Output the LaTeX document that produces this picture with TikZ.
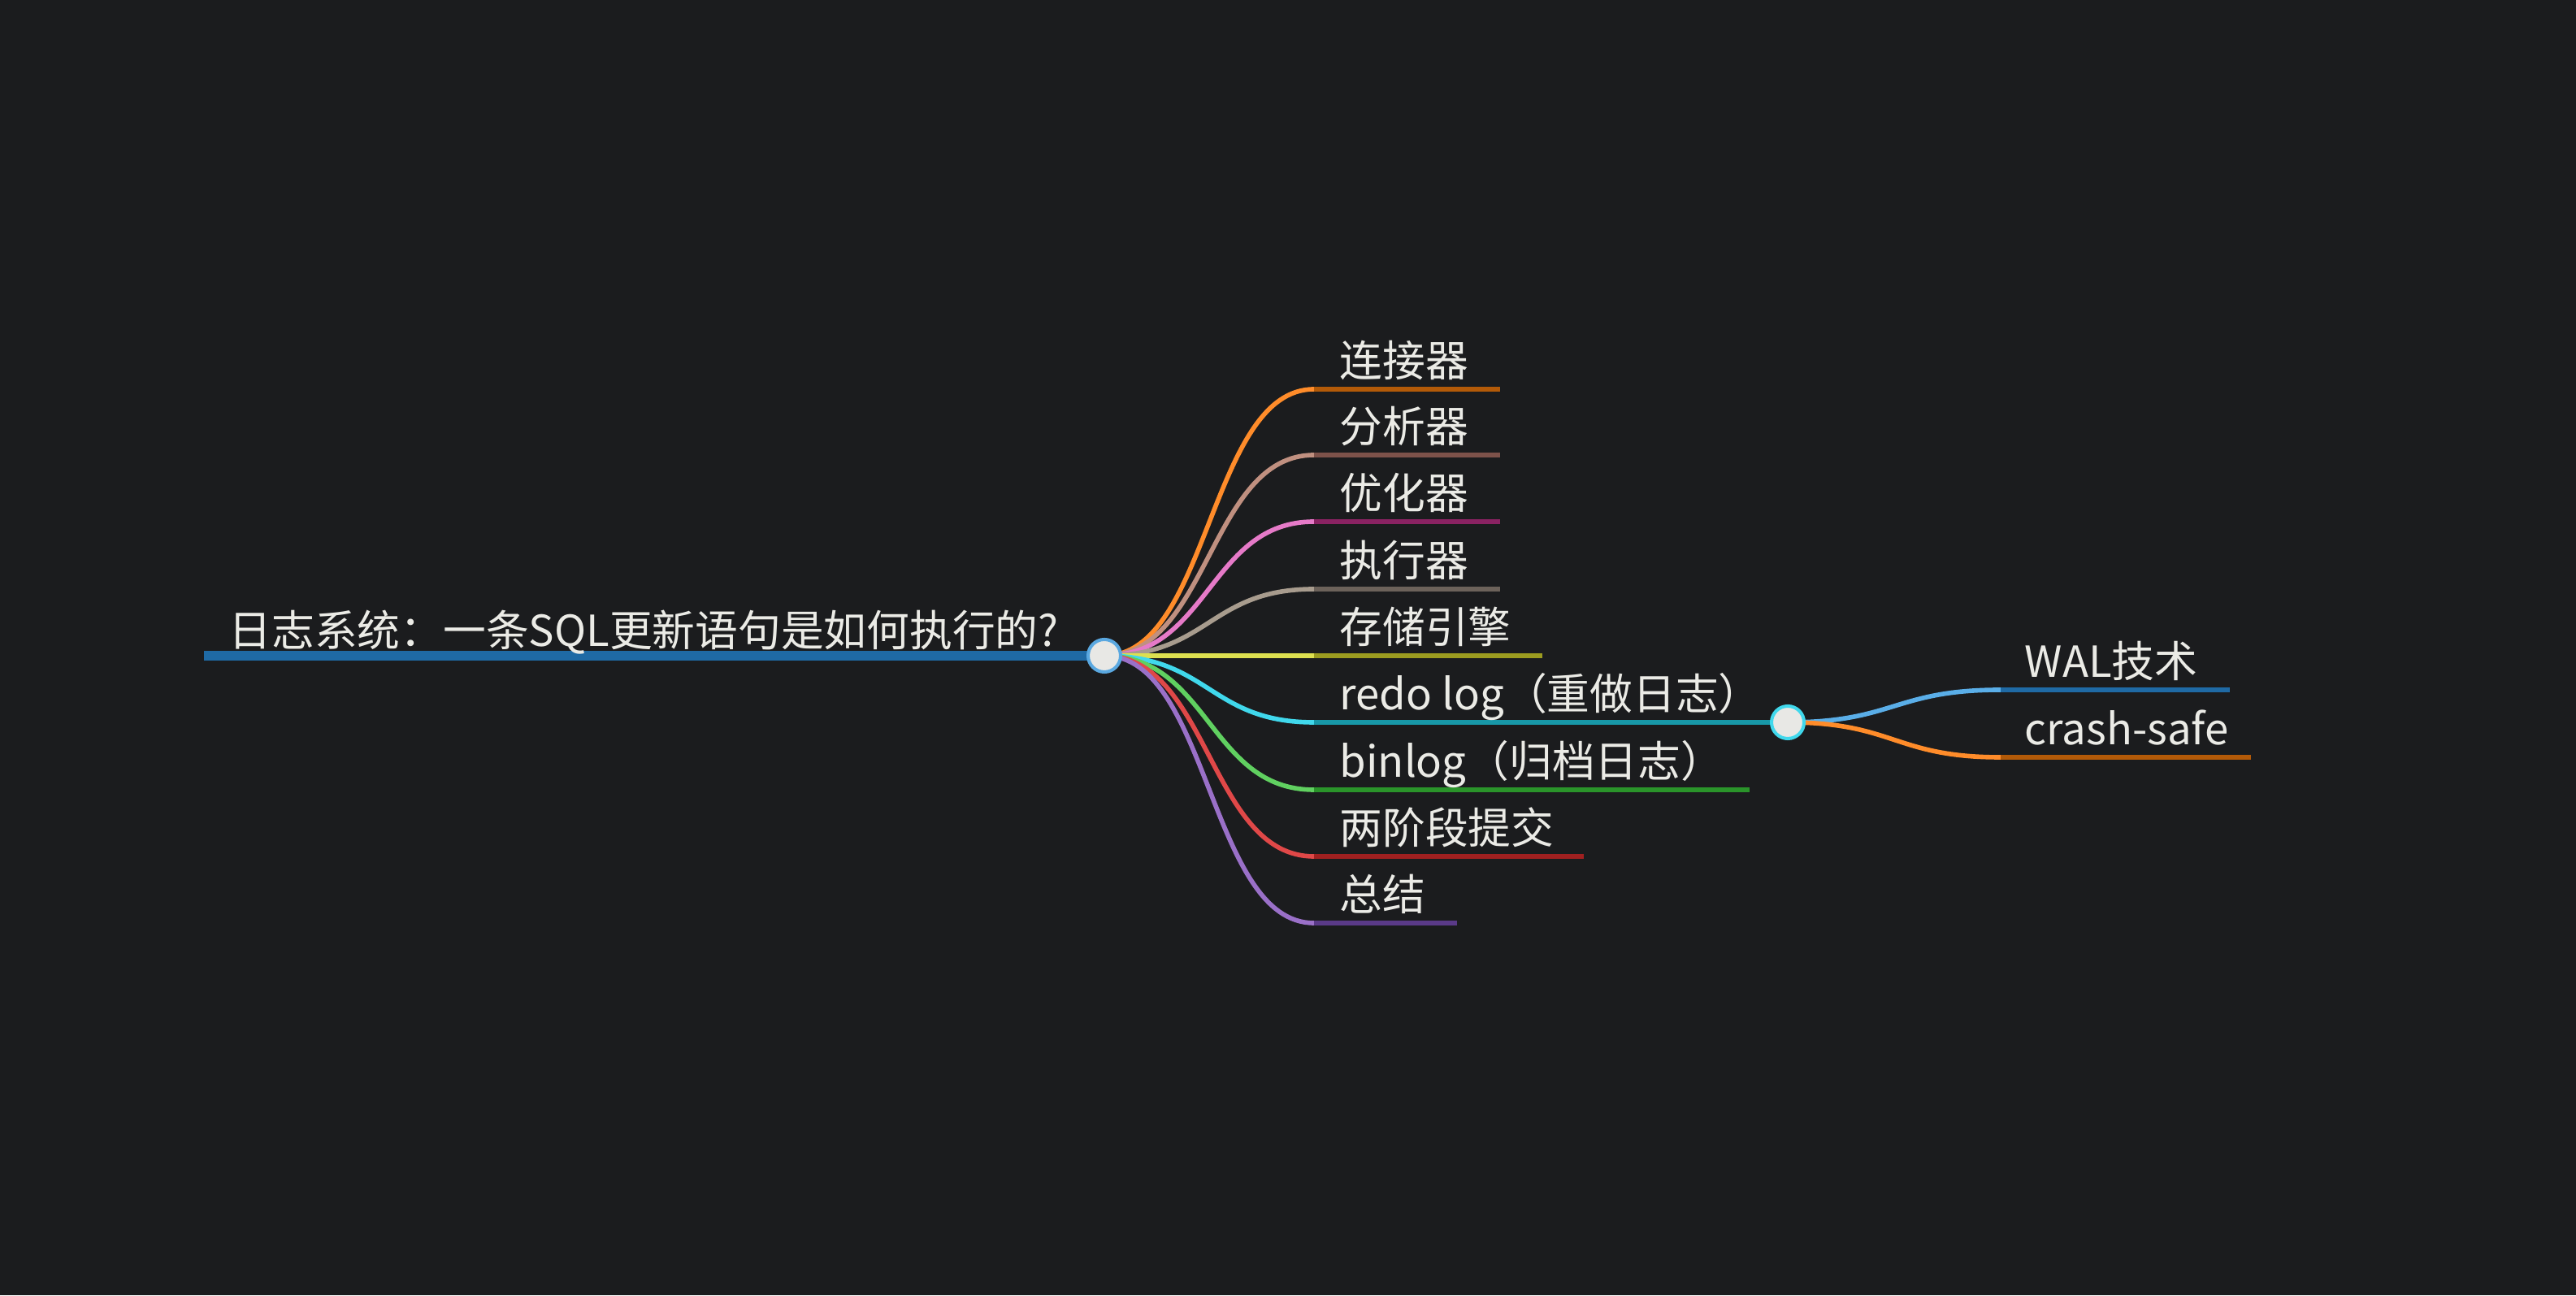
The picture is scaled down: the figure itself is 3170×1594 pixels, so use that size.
\documentclass[tikz,border=0pt]{standalone}
\usepackage{fontspec}
\setmainfont{Noto Sans CJK SC}
\definecolor{bg}{HTML}{1B1C1E}
\definecolor{txt}{HTML}{EBEBE6}
\definecolor{nodefill}{HTML}{E8E8E5}
\definecolor{rootline}{HTML}{1F6AA5}
\definecolor{rootring}{HTML}{5AA8E0}
\definecolor{cOrange}{HTML}{FF8C2A}\definecolor{dOrange}{HTML}{B35A08}
\definecolor{cBrown}{HTML}{C09080}\definecolor{dBrown}{HTML}{7D524A}
\definecolor{cPink}{HTML}{E67AC8}\definecolor{dPink}{HTML}{8A2262}
\definecolor{cGray}{HTML}{A89C8E}\definecolor{dGray}{HTML}{6C625A}
\definecolor{cOlive}{HTML}{DDE050}\definecolor{dOlive}{HTML}{9C9C20}
\definecolor{cCyan}{HTML}{40D8EC}\definecolor{dCyan}{HTML}{1898A8}
\definecolor{cGreen}{HTML}{60D060}\definecolor{dGreen}{HTML}{2A942A}
\definecolor{cRed}{HTML}{E04848}\definecolor{dRed}{HTML}{A02020}
\definecolor{cPurple}{HTML}{9A70C8}\definecolor{dPurple}{HTML}{5A3A88}
\definecolor{cBlue}{HTML}{5AAEE8}\definecolor{dBlue}{HTML}{1F6AA5}
\tikzset{
  lbl/.style={anchor=base west, inner sep=0pt, text=txt, font=\fontsize{15pt}{18pt}\selectfont},
  curvelink/.style={line width=1.6pt},
  underline/.style={line width=1.5pt},
  knot/.style={circle, minimum size=0.4cm, inner sep=0pt, fill=nodefill, line width=1.15pt},
}
\begin{document}
\begin{tikzpicture}[x=0.01cm,y=0.01cm]
\fill[bg] (0,0) rectangle (3170,1594);
\useasboundingbox (0,0) rectangle (3170,1594);
% root
\coordinate (rootstart) at (251,787);
\coordinate (rootc) at (1359,787);
\draw[rootline, line width=3.4pt] (rootstart) -- (rootc);
\node[lbl] (roottext) at (281,798) {日志系统：一条SQL更新语句是如何执行的?};
% children
\foreach \n/\y/\ex/\cc/\dc/\t in {
  a/1115/1846/cOrange/dOrange/连接器,
  b/1034/1846/cBrown/dBrown/分析器,
  c/952/1846/cPink/dPink/优化器,
  d/869/1846/cGray/dGray/执行器,
  e/787/1898/cOlive/dOlive/存储引擎,
  f/705/2200/cCyan/dCyan/redo log（重做日志）,
  g/622/2153/cGreen/dGreen/binlog（归档日志）,
  h/540/1949/cRed/dRed/两阶段提交,
  i/458/1793/cPurple/dPurple/总结}{
  \coordinate (c\n) at (1617,\y);
  \coordinate (e\n) at (\ex,\y);
  \draw[curvelink, \cc] (rootc) .. controls +(129,0) and +(-129,0) .. (c\n);
  \draw[underline, \dc] (c\n) -- (e\n);
  \node[lbl] (t\n) at (1648,\y+15) {\t};
}
% sub children of redo log
\foreach \n/\y/\ex/\cc/\dc/\t in {
  j/745/2744/cBlue/dBlue/WAL技术,
  k/662/2770/cOrange/dOrange/crash-safe}{
  \coordinate (c\n) at (2462,\y);
  \coordinate (e\n) at (\ex,\y);
  \draw[curvelink, \cc] (ef) .. controls +(131,0) and +(-131,0) .. (c\n);
  \draw[underline, \dc] (c\n) -- (e\n);
  \node[lbl] (t\n) at (2491,\y+15) {\t};
}
\node[knot, draw=rootring] (root) at (rootc) {};
\node[knot, draw=cCyan] (sub) at (ef) {};
\end{tikzpicture}
\end{document}
